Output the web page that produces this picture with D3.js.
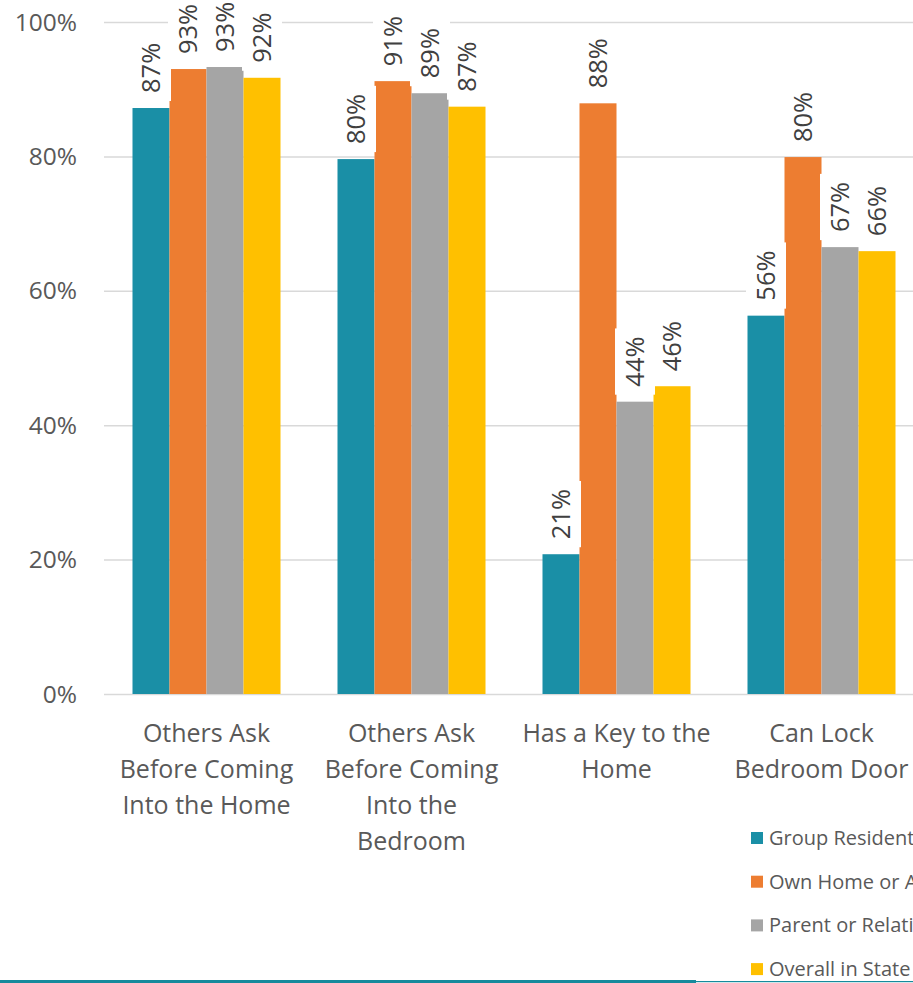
<!DOCTYPE html>
<html>
<head>
<meta charset="utf-8">
<script src="https://cdn.jsdelivr.net/npm/d3@7"></script>
<style>
  html, body { margin: 0; padding: 0; background: #fff; overflow: hidden; }
  svg text { font-family: "Open Sans", sans-serif; fill: #595959; }
</style>
</head>
<body>
<div id="chart"></div>
<script>
var categories = [
  ["Others Ask", "Before Coming", "Into the Home"],
  ["Others Ask", "Before Coming", "Into the", "Bedroom"],
  ["Has a Key to the", "Home"],
  ["Can Lock", "Bedroom Door"]
];
var seriesNames = ["Group Residential Setting", "Own Home or Apartment", "Parent or Relative's Home", "Overall in State"];
var colors = ["#1A8FA6", "#ED7D31", "#A5A5A5", "#FFC000"];

var groupResidential = [87.2, 79.6, 20.8, 56.3];
var ownHome = [93.0, 91.2, 87.9, 79.9];
var parentHome = [93.3, 89.4, 43.5, 66.5];
var overallState = [91.7, 87.4, 45.8, 65.9];
var series = [groupResidential, ownHome, parentHome, overallState];

var yTicks = [0, 20, 40, 60, 80, 100];

var width = 913, height = 983;

var svg = d3.select("#chart").append("svg")
    .attr("width", width)
    .attr("height", height);

var catIdx = d3.range(categories.length);

var x0 = d3.scaleBand()
    .domain(catIdx)
    .range([104, 924])
    .paddingInner(0.278)
    .paddingOuter(0.139);

var x1 = d3.scaleBand()
    .domain(d3.range(series.length))
    .range([0, x0.bandwidth()]);

var y = d3.scaleLinear()
    .domain([0, 100])
    .range([694, 22]);

// gridlines
svg.append("g")
  .selectAll("line")
  .data(yTicks)
  .enter().append("line")
    .attr("x1", 104)
    .attr("x2", width)
    .attr("y1", function(d) { return y(d) + 0.5; })
    .attr("y2", function(d) { return y(d) + 0.5; })
    .attr("stroke", "#D9D9D9")
    .attr("stroke-width", 1.5);

// y labels
svg.append("g")
  .selectAll("text")
  .data(yTicks)
  .enter().append("text")
    .attr("x", 77)
    .attr("y", function(d) { return y(d); })
    .attr("dy", "0.35em")
    .attr("text-anchor", "end")
    .style("font-size", "24.5px")
    .text(function(d) { return d + "%"; });

// bars
var groups = svg.append("g")
  .selectAll("g")
  .data(catIdx)
  .enter().append("g")
    .attr("transform", function(c) { return "translate(" + x0(c) + ",0)"; });

groups.selectAll("rect")
  .data(function(c) { return series.map(function(s, i) { return { s: i, v: s[c] }; }); })
  .enter().append("rect")
    .attr("x", function(d) { return x1(d.s); })
    .attr("y", function(d) { return y(d.v); })
    .attr("width", x1.bandwidth())
    .attr("height", function(d) { return y(0) - y(d.v); })
    .attr("fill", function(d) { return colors[d.s]; });

// data labels, drawn over everything with white boxes
var labelData = [];
catIdx.forEach(function(c) {
  series.forEach(function(s, i) { labelData.push({ c: c, s: i, v: s[c] }); });
});

var labels = svg.append("g")
  .selectAll("g")
  .data(labelData)
  .enter().append("g")
    .attr("transform", function(d) {
      var cx = x0(d.c) + x1(d.s) + x1.bandwidth() / 2;
      return "translate(" + cx + "," + (y(d.v) - 7) + ") rotate(-90)";
    });

labels.append("text")
    .attr("x", 8)
    .attr("y", 0)
    .attr("dy", "0.35em")
    .style("font-size", "25.5px")
    .style("fill", "#404040")
    .text(function(d) { return Math.round(d.v) + "%"; });

labels.each(function() {
  var g = d3.select(this);
  var len = g.select("text").node().getComputedTextLength();
  g.insert("rect", "text")
    .attr("x", 0)
    .attr("y", -20)
    .attr("width", len + 16)
    .attr("height", 40)
    .attr("fill", "#fff");
});

// category labels
var catText = svg.append("g")
  .selectAll("text")
  .data(catIdx)
  .enter().append("text")
    .attr("text-anchor", "middle")
    .attr("x", function(c) { return x0(c) + x0.bandwidth() / 2; })
    .attr("y", 742)
    .style("font-size", "25px");

catText.selectAll("tspan")
  .data(function(c) { return categories[c]; })
  .enter().append("tspan")
    .attr("x", function() { var p = this.parentNode; return d3.select(p).attr("x"); })
    .attr("dy", function(d, i) { return i === 0 ? 0 : 36; })
    .text(function(d) { return d; });

// legend
var legend = svg.append("g")
  .selectAll("g")
  .data(seriesNames)
  .enter().append("g")
    .attr("transform", function(d, i) { return "translate(751," + (838 + i * 43.7) + ")"; });

legend.append("rect")
    .attr("x", 0)
    .attr("y", -6)
    .attr("width", 12)
    .attr("height", 12)
    .attr("fill", function(d, i) { return colors[i]; });

legend.append("text")
    .attr("x", 18)
    .attr("y", 0)
    .attr("dy", "0.35em")
    .style("font-size", "20px")
    .text(function(d) { return d; });

// bottom rule
svg.append("rect")
    .attr("x", 0)
    .attr("y", 980)
    .attr("width", 696)
    .attr("height", 3)
    .attr("fill", "#168A9C");

svg.append("rect")
    .attr("x", 696)
    .attr("y", 981)
    .attr("width", width - 696)
    .attr("height", 1.2)
    .attr("fill", "#168A9C");
</script>
</body>
</html>
